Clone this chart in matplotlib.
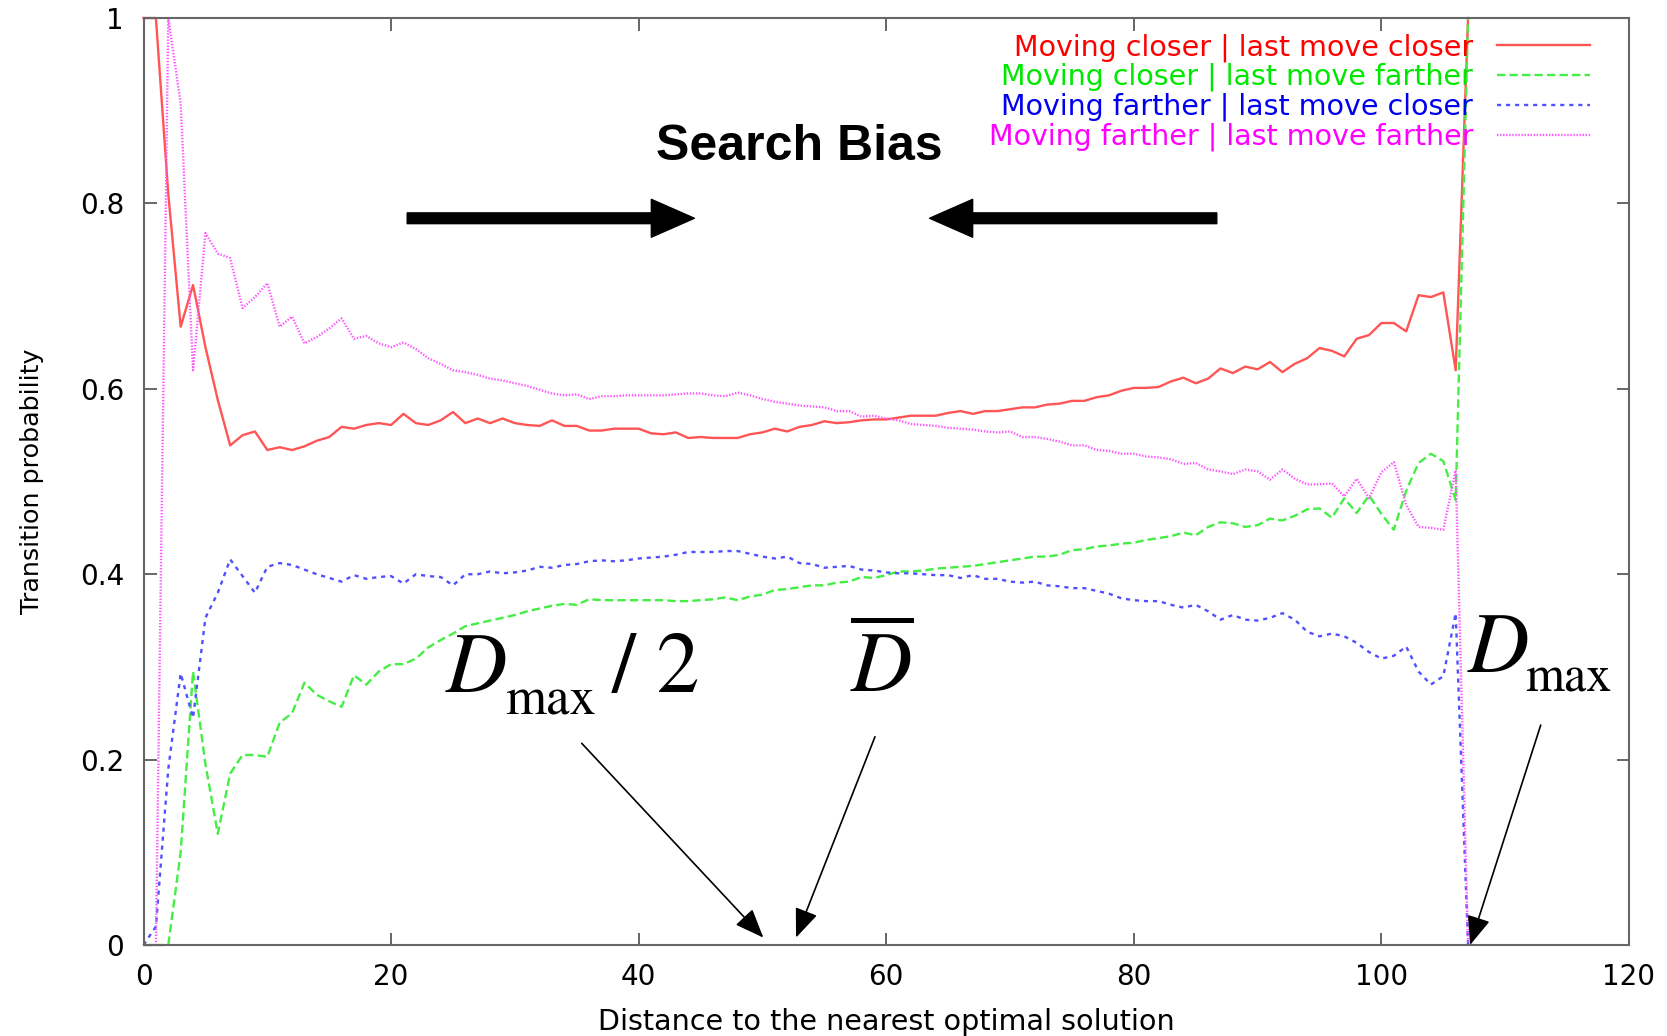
import numpy as np
import matplotlib
matplotlib.use('Agg')
import matplotlib.pyplot as plt

plt.rcParams['mathtext.fontset'] = 'stix'
plt.rcParams['lines.scale_dashes'] = False

# transition probabilities vs. distance to the nearest optimum
distance = np.arange(0, 108)

closer_closer = [
    1.0, 1.0, 0.81, 0.667, 0.712, 0.645, 0.588, 0.539, 0.550, 0.554,
    0.534, 0.537, 0.534, 0.538, 0.544, 0.548, 0.559, 0.557, 0.561, 0.563,
    0.561, 0.573, 0.563, 0.561, 0.566, 0.575, 0.563, 0.568, 0.563, 0.568,
    0.563, 0.561, 0.560, 0.566, 0.560, 0.560, 0.555, 0.555, 0.557, 0.557,
    0.557, 0.552, 0.551, 0.553, 0.547, 0.548, 0.547, 0.547, 0.547, 0.551,
    0.553, 0.557, 0.554, 0.559, 0.561, 0.565, 0.563, 0.564, 0.566, 0.567,
    0.567, 0.569, 0.571, 0.571, 0.571, 0.574, 0.576, 0.573, 0.576, 0.576,
    0.578, 0.580, 0.580, 0.583, 0.584, 0.587, 0.587, 0.591, 0.593, 0.598,
    0.601, 0.601, 0.602, 0.608, 0.612, 0.606, 0.611, 0.622, 0.617, 0.624,
    0.621, 0.629, 0.618, 0.627, 0.633, 0.644, 0.641, 0.635, 0.654, 0.658,
    0.671, 0.671, 0.662, 0.701, 0.699, 0.704, 0.620, 1.0]

closer_farther = [
    0.0, 0.0, 0.0, 0.10, 0.295, 0.195, 0.12, 0.185, 0.205, 0.205,
    0.203, 0.24, 0.25, 0.283, 0.27, 0.263, 0.257, 0.291, 0.281, 0.295,
    0.303, 0.303, 0.309, 0.321, 0.329, 0.336, 0.344, 0.347, 0.350, 0.353,
    0.356, 0.360, 0.363, 0.366, 0.368, 0.367, 0.373, 0.372, 0.372, 0.372,
    0.372, 0.372, 0.372, 0.371, 0.371, 0.372, 0.373, 0.375, 0.372, 0.376,
    0.378, 0.383, 0.384, 0.386, 0.388, 0.388, 0.391, 0.392, 0.397, 0.396,
    0.399, 0.403, 0.403, 0.404, 0.406, 0.407, 0.408, 0.409, 0.411, 0.413,
    0.415, 0.417, 0.419, 0.419, 0.421, 0.426, 0.427, 0.430, 0.431, 0.433,
    0.434, 0.437, 0.439, 0.441, 0.445, 0.442, 0.451, 0.456, 0.455, 0.451,
    0.453, 0.460, 0.458, 0.463, 0.470, 0.471, 0.461, 0.482, 0.466, 0.485,
    0.465, 0.448, 0.49, 0.52, 0.530, 0.522, 0.48, 1.0]

farther_closer = [
    0.0, 0.02, 0.19, 0.293, 0.245, 0.353, 0.38, 0.416, 0.398, 0.38,
    0.408, 0.412, 0.41, 0.405, 0.40, 0.396, 0.392, 0.399, 0.395, 0.397,
    0.398, 0.390, 0.400, 0.398, 0.397, 0.388, 0.400, 0.400, 0.403, 0.401,
    0.402, 0.404, 0.408, 0.407, 0.410, 0.411, 0.414, 0.415, 0.414, 0.415,
    0.417, 0.418, 0.419, 0.421, 0.424, 0.424, 0.424, 0.425, 0.425, 0.422,
    0.419, 0.417, 0.419, 0.412, 0.411, 0.407, 0.408, 0.409, 0.405, 0.404,
    0.402, 0.401, 0.401, 0.400, 0.399, 0.399, 0.396, 0.399, 0.395, 0.395,
    0.392, 0.391, 0.392, 0.388, 0.387, 0.385, 0.385, 0.382, 0.379, 0.374,
    0.372, 0.371, 0.371, 0.367, 0.364, 0.367, 0.360, 0.351, 0.356, 0.351,
    0.350, 0.353, 0.358, 0.351, 0.338, 0.333, 0.336, 0.333, 0.326, 0.316,
    0.309, 0.312, 0.322, 0.295, 0.281, 0.29, 0.358, 0.0]

farther_farther = [
    0.0, 0.0, 1.0, 0.908, 0.62, 0.768, 0.746, 0.741, 0.687, 0.699,
    0.714, 0.667, 0.678, 0.649, 0.656, 0.665, 0.676, 0.654, 0.657, 0.649,
    0.645, 0.650, 0.643, 0.633, 0.627, 0.620, 0.618, 0.615, 0.611, 0.609,
    0.606, 0.603, 0.599, 0.595, 0.593, 0.594, 0.589, 0.592, 0.592, 0.593,
    0.593, 0.593, 0.593, 0.594, 0.595, 0.595, 0.593, 0.592, 0.596, 0.593,
    0.589, 0.586, 0.584, 0.582, 0.581, 0.580, 0.576, 0.576, 0.570, 0.571,
    0.568, 0.566, 0.562, 0.561, 0.560, 0.558, 0.557, 0.556, 0.554, 0.553,
    0.554, 0.548, 0.548, 0.546, 0.543, 0.539, 0.539, 0.534, 0.533, 0.530,
    0.530, 0.527, 0.526, 0.524, 0.519, 0.520, 0.513, 0.511, 0.508, 0.513,
    0.511, 0.502, 0.513, 0.503, 0.497, 0.497, 0.498, 0.484, 0.503, 0.482,
    0.51, 0.521, 0.475, 0.451, 0.450, 0.448, 0.512, 0.0]

series_labels = ['Moving closer | last move closer',
                 'Moving closer | last move farther',
                 'Moving farther | last move closer',
                 'Moving farther | last move farther']

x_ticks = [0, 20, 40, 60, 80, 100, 120]
x_tick_labels = ['0', '20', '40', '60', '80', '100', '120']
y_ticks = [0, 0.2, 0.4, 0.6, 0.8, 1.0]
y_tick_labels = ['0', '0.2', '0.4', '0.6', '0.8', '1']

line_colors = ['#ff5555', '#44ee44', '#5050ff', '#ff55ff']
text_colors = ['#ff0000', '#00e800', '#0000ee', '#ff00ff']

fig = plt.figure(figsize=(16.67, 10.36), dpi=100)
ax = fig.add_axes([0.0861, 0.0878, 0.8911, 0.8948])

ax.plot(distance, closer_closer, color=line_colors[0], lw=1.7,
        label=series_labels[0], clip_on=False)
ax.plot(distance, closer_farther, color=line_colors[1], lw=1.7,
        dashes=(6, 3), label=series_labels[1], clip_on=False)
ax.plot(distance, farther_closer, color=line_colors[2], lw=1.7,
        dashes=(3, 3.5), label=series_labels[2], clip_on=False)
ax.plot(distance, farther_farther, color=line_colors[3], lw=1.7,
        dashes=(1, 1.2), label=series_labels[3], clip_on=False)

ax.set_xlim(0, 120)
ax.set_ylim(0, 1)
ax.set_xticks(x_ticks)
ax.set_xticklabels(x_tick_labels)
ax.set_yticks(y_ticks)
ax.set_yticklabels(y_tick_labels)
ax.tick_params(direction='in', top=True, right=True, length=9, width=1.4,
               color='#666666', labelsize=20)
ax.tick_params(axis='x', pad=13)
ax.tick_params(axis='y', pad=14)
for sp in ax.spines.values():
    sp.set_color('#666666')
    sp.set_linewidth(1.5)

ax.set_xlabel('Distance to the nearest optimal solution', fontsize=20.6,
              labelpad=12)
ax.set_ylabel('Transition probability', fontsize=18.3, labelpad=26)

ax.legend(loc='upper right', bbox_to_anchor=(0.9737, 0.9838), frameon=False,
          markerfirst=False, fontsize=20.5, handlelength=3.25,
          handletextpad=0.85, labelspacing=0.05, borderpad=0,
          borderaxespad=0, labelcolor=text_colors)

# search bias arrows
ax.text(53.0, 0.8465, 'Search Bias', ha='center', va='baseline',
        fontsize=36, fontweight='bold', family='Liberation Sans')
big_arrow = dict(arrowstyle='simple,head_length=1.0,head_width=0.88,tail_width=0.25',
                 mutation_scale=31, color='black', shrinkA=0, shrinkB=0)
ax.annotate('', xy=(44.5, 0.784), xytext=(21.3, 0.784), arrowprops=big_arrow)
ax.annotate('', xy=(63.5, 0.784), xytext=(86.7, 0.784), arrowprops=big_arrow)

# distance markers: italic D with a smaller upright "max" subscript
serif = ['STIXGeneral', 'Liberation Serif']
ax.text(24.35, 0.273, r'$D$', fontsize=61, va='baseline')
ax.annotate('max', xy=(24.35, 0.273), xytext=(43, -16.5),
            textcoords='offset points', fontsize=38, va='baseline',
            family=serif)
ax.annotate('/ 2', xy=(24.35, 0.273), xytext=(120, 0),
            textcoords='offset points', fontsize=62, va='baseline',
            family=serif)
ax.text(57.1, 0.273, r'$\overline{D}$', fontsize=61, va='baseline')
ax.text(106.9, 0.2945, r'$D$', fontsize=61, va='baseline')
ax.annotate('max', xy=(106.9, 0.2945), xytext=(42, -14),
            textcoords='offset points', fontsize=36, va='baseline',
            family=serif)

thin_arrow = dict(arrowstyle='-|>,head_length=1.0,head_width=0.4',
                  mutation_scale=18, color='black', lw=1.2,
                  shrinkA=0, shrinkB=0)
ax.annotate('', xy=(50.07, 0.008), xytext=(35.4, 0.2176), arrowprops=thin_arrow)
ax.annotate('', xy=(52.71, 0.008), xytext=(59.09, 0.2247), arrowprops=thin_arrow)
ax.annotate('', xy=(107.16, 0.0), xytext=(112.87, 0.2373),
            arrowprops=thin_arrow, annotation_clip=False)

fig.savefig('out.png', dpi=100)
